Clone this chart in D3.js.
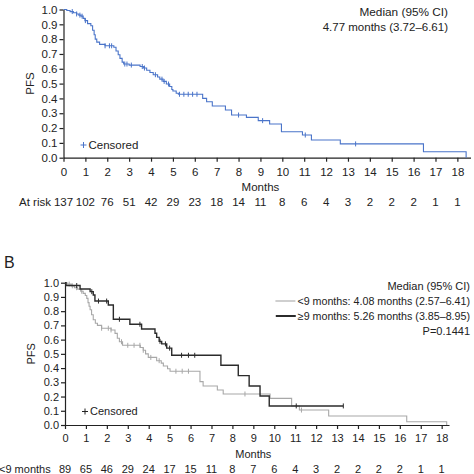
<!DOCTYPE html>
<html><head><meta charset="utf-8">
<script src="https://cdn.jsdelivr.net/npm/d3@7"></script>
<style>
body{margin:0;background:#fff;}
svg{display:block;font-family:"Liberation Sans",Arial,sans-serif;}
</style></head>
<body>
<svg id="c" width="474" height="474"></svg>
<script>
// ---------- DATA ----------
const monthTicks = d3.range(0, 19);
const pfsTicks = [0,0.1,0.2,0.3,0.4,0.5,0.6,0.7,0.8,0.9,1.0];

// Panel A: all patients (step events: [month, PFS])
const stepsAll = [[0,1],[0.15,0.993],[0.3,0.986],[0.45,0.978],[0.6,0.97],[0.7,0.962],[0.8,0.955],[0.9,0.94],[0.98,0.925],[1.1,0.905],[1.25,0.89],[1.33,0.86],[1.4,0.83],[1.45,0.80],[1.52,0.78],[1.65,0.765],[1.9,0.755],[2.3,0.745],[2.4,0.72],[2.5,0.695],[2.58,0.67],[2.68,0.645],[2.75,0.632],[3.0,0.625],[3.5,0.615],[3.65,0.605],[3.8,0.59],[3.95,0.575],[4.1,0.56],[4.3,0.545],[4.4,0.53],[4.55,0.515],[4.7,0.497],[4.85,0.48],[4.95,0.46],[5.0,0.45],[5.15,0.435],[5.25,0.428],[6.36,0.40],[6.54,0.378],[6.8,0.349],[7.4,0.322],[7.68,0.288],[8.36,0.272],[8.9,0.25],[9.42,0.227],[9.96,0.175],[10.92,0.153],[11.33,0.119],[12.65,0.093],[16.45,0.04],[18.4,0]];
const censorAll = [0.4,0.6,0.75,0.85,1.0,1.9,2.1,2.2,2.8,2.9,3.1,3.6,3.7,4.2,4.5,4.6,4.8,5.3,5.5,5.7,5.9,6.1,8.0,9.1,11.05,13.35];
const atRiskAll = [137,102,76,51,42,29,23,18,14,11,8,6,4,3,2,2,2,1,1];

// Panel B: <9 months and >=9 months
const stepsLt9 = [[0,1],[0.1,0.99],[0.3,0.978],[0.45,0.965],[0.6,0.955],[0.75,0.94],[0.87,0.925],[0.97,0.91],[1.04,0.89],[1.1,0.86],[1.15,0.835],[1.2,0.81],[1.27,0.775],[1.35,0.74],[1.45,0.715],[1.55,0.70],[1.75,0.68],[2.2,0.668],[2.39,0.644],[2.5,0.61],[2.6,0.585],[2.75,0.56],[3.6,0.545],[3.74,0.525],[3.85,0.5],[3.98,0.475],[4.38,0.452],[4.6,0.435],[4.7,0.415],[4.9,0.395],[5.02,0.378],[6.45,0.305],[6.6,0.274],[7.28,0.246],[7.56,0.218],[9.8,0.187],[10.83,0.134],[11.2,0.105],[12.6,0.063],[16.33,0.023],[18.24,0]];
const censorLt9 = [0.2,0.35,0.55,0.8,1.75,2.07,2.2,2.7,3.0,3.3,3.58,3.74,4.1,4.5,5.3,5.6,5.9,8.6,11.3];
const stepsGe9 = [[0,1],[0.05,0.98],[0.72,0.956],[1.2,0.937],[1.35,0.914],[1.43,0.871],[2.07,0.843],[2.31,0.743],[3.1,0.708],[3.66,0.675],[4.3,0.645],[4.38,0.616],[4.5,0.588],[4.62,0.57],[4.86,0.54],[5.1,0.49],[7.45,0.42],[8.28,0.347],[8.8,0.274],[9.32,0.204],[9.76,0.134],[13.3,0.134]];
const censorGe9 = [0.56,1.28,1.6,1.99,2.6,3.58,4.54,4.8,5.0,5.57,5.9,6.2,11.05,13.3];
const atRiskLt9 = [89,65,46,29,24,17,15,11,8,7,6,4,3,2,2,2,2,1,1];

// ---------- DRAW ----------
const svg = d3.select("#c");
const ink = "#222";

function survAt(steps, t){
  let s = steps[0][1];
  for (const [tt, v] of steps){ if (tt <= t) s = v; else break; }
  return s;
}

function panel(o){
  const fs = o.fs;
  const x = d3.scaleLinear().domain([0, o.xmax]).range([o.x0, o.x1]);
  const y = d3.scaleLinear().domain([0, 1]).range([o.y0, o.y1]);
  const g = svg.append("g");

  const xa = g.append("g").attr("transform", `translate(0,${o.y0})`)
    .call(d3.axisBottom(x).tickValues(monthTicks).tickSize(4).tickSizeOuter(0).tickFormat(d3.format("d")));
  const ya = g.append("g").attr("transform", `translate(${o.x0},0)`)
    .call(d3.axisLeft(y).tickValues(pfsTicks).tickSize(4).tickSizeOuter(0).tickFormat(d3.format(".1f")));
  [xa, ya].forEach(a => {
    a.selectAll("path,line").attr("stroke", ink).attr("stroke-width", 1.2);
    a.selectAll("text").attr("fill", ink).attr("font-size", fs).attr("font-family", "Liberation Sans, Arial, sans-serif");
  });
  xa.selectAll("text").attr("dy", "0.95em");
  ya.selectAll("text").attr("x", -6);

  g.append("text").attr("transform", `translate(${o.x0-34},${(o.y0+o.y1)/2}) rotate(-90)`)
    .attr("text-anchor","middle").attr("dy","0.35em").attr("font-size", fs).attr("fill", ink).text("PFS");
  g.append("text").attr("x", (x(0)+x(18))/2).attr("y", o.y0+29).attr("text-anchor","middle")
    .attr("dy","0.35em").attr("font-size", fs).attr("fill", ink).text("Months");

  const line = d3.line().x(d => x(d[0])).y(d => y(d[1])).curve(d3.curveStepAfter);
  o.series.forEach(sr => {
    g.append("path").datum(sr.steps).attr("d", line).attr("fill","none")
      .attr("stroke", sr.color).attr("stroke-width", sr.w);
    g.selectAll(null).data(sr.censor).enter().append("line")
      .attr("x1", d => x(d)).attr("x2", d => x(d))
      .attr("y1", d => y(survAt(sr.steps, d)) - 2.5).attr("y2", d => y(survAt(sr.steps, d)) + 2.5)
      .attr("stroke", sr.color).attr("stroke-width", 1);
  });

  // censored legend
  const lx = o.x0 + 20, ly = o.censY;
  g.append("line").attr("x1", lx-3).attr("x2", lx+3).attr("y1", ly).attr("y2", ly).attr("stroke", o.censColor).attr("stroke-width",1);
  g.append("line").attr("x1", lx).attr("x2", lx).attr("y1", ly-3).attr("y2", ly+3).attr("stroke", o.censColor).attr("stroke-width",1);
  g.append("text").attr("x", lx+5).attr("y", ly).attr("dy","0.35em").attr("font-size", fs).attr("fill", ink).text("Censored");

  // at risk row
  const ry = o.y0 + 44;
  g.append("text").attr("x", o.riskLabelX).attr("y", ry).attr("dy","0.35em").attr("font-size", fs).attr("fill", ink).text(o.riskLabel);
  g.selectAll(null).data(o.atRisk).enter().append("text")
    .attr("x", (d,i) => x(monthTicks[i])).attr("y", ry).attr("dy","0.35em")
    .attr("text-anchor","middle").attr("font-size", fs).attr("fill", ink).text(d => d);
  return {x, y, g};
}

const blue = "#4a74c9", light = "#a8a8a8", dark = "#2b2b2b";

panel({fs:11.5, xmax:18.6, x0:63.5, x1:470.5, y0:157.7, y1:9.5,
  series:[{steps:stepsAll, censor:censorAll, color:blue, w:1.1}],
  censY:145, censColor:blue, atRisk:atRiskAll, riskLabel:"At risk", riskLabelX:19});

svg.append("text").attr("x",448).attr("y",12).attr("dy","0.35em").attr("text-anchor","end")
  .attr("font-size", 11.8).attr("fill", ink).text("Median (95% CI)");
svg.append("text").attr("x",448).attr("y",27).attr("dy","0.35em").attr("text-anchor","end")
  .attr("font-size", 11.5).attr("fill", ink).text("4.77 months (3.72\u20136.61)");

const fsB = 11;
panel({fs:fsB, xmax:18.35, x0:65, x1:449, y0:425, y1:282.7,
  series:[{steps:stepsLt9, censor:censorLt9, color:light, w:1.1},
          {steps:stepsGe9, censor:censorGe9, color:dark, w:1.4}],
  censY:411.5, censColor:ink, atRisk:atRiskLt9, riskLabel:"<9 months", riskLabelX:-1});

svg.append("text").attr("x",4).attr("y",262).attr("dy","0.35em").attr("font-size",16).attr("fill",ink).text("B");

const lgx = 470;
svg.append("text").attr("x",lgx).attr("y",286).attr("dy","0.35em").attr("text-anchor","end")
  .attr("font-size", fsB).attr("fill", ink).text("Median (95% CI)");
const t1 = svg.append("text").attr("x",lgx).attr("y",301).attr("dy","0.35em").attr("text-anchor","end")
  .attr("font-size", 10.7).attr("fill", ink).text("<9 months: 4.08 months (2.57\u20136.41)");
const t2 = svg.append("text").attr("x",lgx).attr("y",316).attr("dy","0.35em").attr("text-anchor","end")
  .attr("font-size", 10.7).attr("fill", ink).text("\u22659 months: 5.26 months (3.85\u20138.95)");
svg.append("text").attr("x",lgx).attr("y",331).attr("dy","0.35em").attr("text-anchor","end")
  .attr("font-size", fsB).attr("fill", ink).text("P=0.1441");
[[t1, light, 1.1, 301],[t2, dark, 2, 316]].forEach(([t, c, w, yy]) => {
  const bx = t.node().getBBox().x;
  svg.append("line").attr("x1", bx-22).attr("x2", bx-2).attr("y1", yy).attr("y2", yy).attr("stroke", c).attr("stroke-width", w);
});
</script>
</body></html>
